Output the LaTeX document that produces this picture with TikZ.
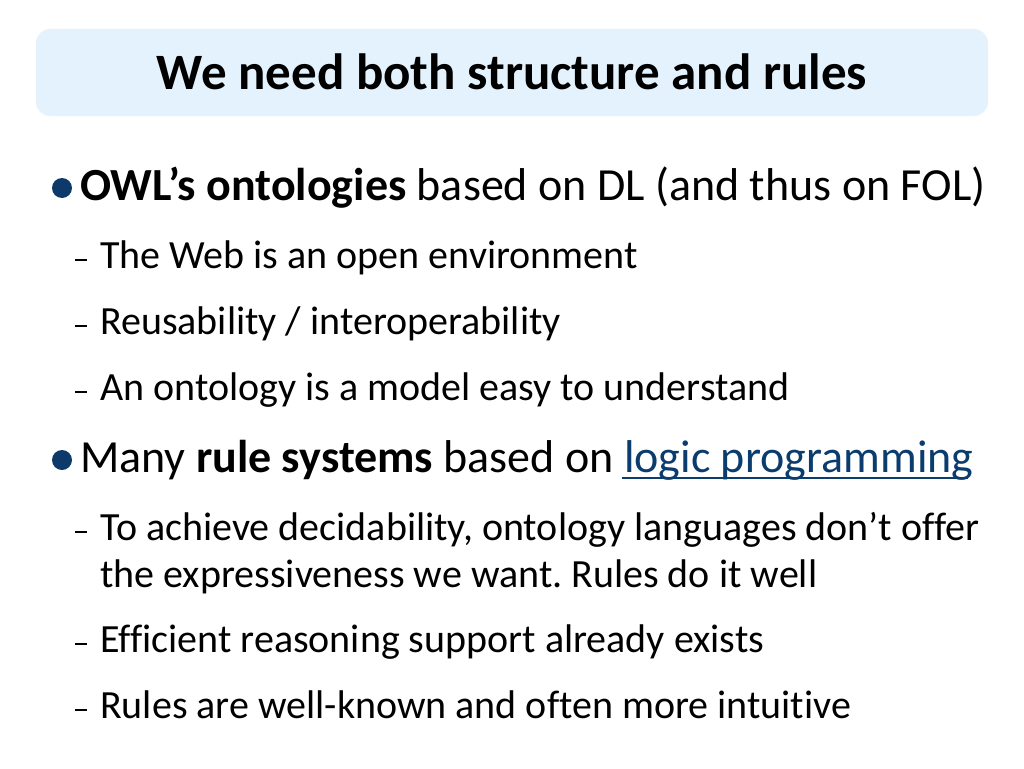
\documentclass[tikz,border=0pt]{standalone}
\usepackage{fontspec}
\setmainfont{Carlito}[Ligatures=CommonOff]
\usepackage{tikz}
\frenchspacing
\definecolor{titlefill}{HTML}{E3F2FC}
\definecolor{bulletblue}{HTML}{0E3A6B}
\definecolor{linkblue}{HTML}{0B3C6E}
\tikzset{
  lvlone/.style={anchor=base west,inner sep=0pt,font=\fontsize{46}{54}\selectfont},
  lvltwo/.style={anchor=base west,inner sep=0pt,font=\fontsize{40}{48}\selectfont},
  dashmark/.style={line width=2pt},
}
\begin{document}
\begin{tikzpicture}[x=1pt,y=-1pt]
\useasboundingbox (0,0) rectangle (1024,768);
%%% TITLE
\path[draw=none,fill=titlefill,rounded corners=14pt] (36,29) rectangle (988,116);
\path (512,72) node[font=\fontsize{51}{60}\selectfont\bfseries] (title) {We need both structure and rules};

%%% OWL LEVEL
\path[fill=bulletblue] (62,188) circle (10);
\path (80,200) node[lvlone] (owl) {\textbf{OWL’s ontologies} based on DL (and thus on FOL)};
\path[draw,dashmark] (75,260) -- (87,260);
\path (100,268) node[lvltwo] (web) {The Web is an open environment};
\path[draw,dashmark] (75,326) -- (87,326);
\path (100,334) node[lvltwo] (reuse) {Reusability / interoperability};
\path[draw,dashmark] (75,392) -- (87,392);
\path (100,400) node[lvltwo] (model) {An ontology is a model easy to understand};

%%% RULE LEVEL
\path[fill=bulletblue] (62,460) circle (10);
\path (80,472) node[lvlone] (rules) {Many \textbf{rule systems} based on \textcolor{linkblue}{logic programming}};
\path[draw,linkblue,line width=1.5pt] (622,478) -- (968,478);
\path[draw,dashmark] (75,532) -- (87,532);
\path (100,540) node[lvltwo] (decid) {To achieve decidability, ontology languages don’t offer};
\path (100,587) node[lvltwo] (expr) {the expressiveness we want. Rules do it well};
\path[draw,dashmark] (75,644) -- (87,644);
\path (100,652) node[lvltwo] (effic) {Efficient reasoning support already exists};
\path[draw,dashmark] (75,710) -- (87,710);
\path (100,718) node[lvltwo] (known) {Rules are well-known and often more intuitive};
\end{tikzpicture}
\end{document}
